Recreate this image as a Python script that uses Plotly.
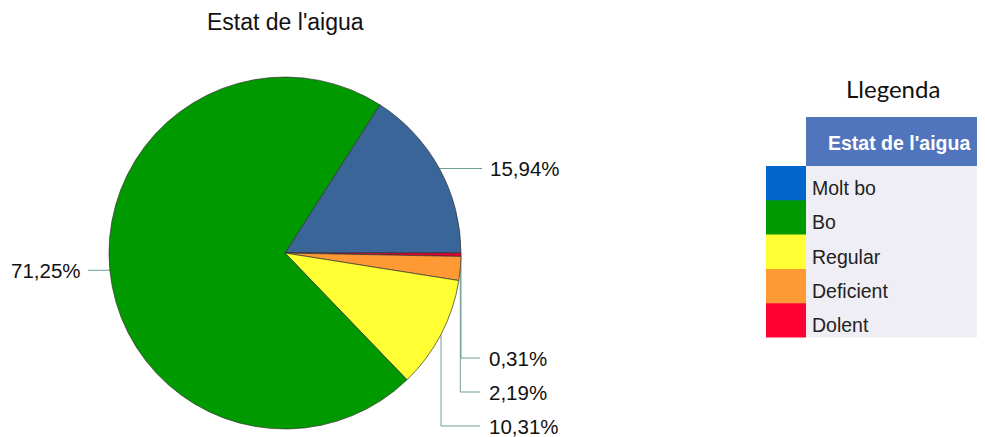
import math
import plotly.graph_objects as go

# Legend categories (top to bottom) and their swatch colours
categories = ["Molt bo", "Bo", "Regular", "Deficient", "Dolent"]
legend_colors = ["#0066CC", "#009900", "#FFFF33", "#FF9933", "#FF0033"]

# Pie slices, in drawing order (clockwise)
slice_names = ["Molt bo", "Dolent", "Deficient", "Regular", "Bo"]
slice_values = [15.94, 0.31, 2.19, 10.31, 71.25]
slice_colors = ["#3A6599", "#E8002E", "#FF9933", "#FFFF33", "#009900"]

# page has an 8px body margin, so the figure is drawn from (8, 8)
OFF = 8
W, H = 985 - OFF, 437 - OFF
cx, cy, r = 285, 253, 176
total = sum(slice_values)
rotation = 90 - 360 * slice_values[0] / total  # first slice ends at 3 o'clock

fig = go.Figure()

fig.add_trace(go.Pie(
    labels=slice_names, values=slice_values, sort=False,
    direction="clockwise", rotation=rotation,
    marker=dict(colors=slice_colors, line=dict(color="#333333", width=0.7)),
    textinfo="none", hoverinfo="label+percent", showlegend=False,
    domain=dict(x=[(cx - r - OFF) / W, (cx + r - OFF) / W],
                y=[(H + OFF - cy - r) / H, (H + OFF - cy + r) / H]),
))


def fmt(v):
    return ("%.2f" % v).replace(".", ",") + "%"


# leader lines and labels, computed from the slice angles
line_col = "#6E9E95"
stack_y = 358
cum = 0
for name, v in zip(slice_names, slice_values):
    theta = math.radians(rotation + 360 * (cum + v / 2) / total)
    cum += v
    ex = cx + r * math.sin(theta)
    ey = cy - r * math.cos(theta)
    if ex < cx:
        xs, ys = [ex, 88], [ey, ey]
        tx, ty, anchor = 83, ey, "right"
    elif v / total > 0.12:
        xs, ys = [ex, 482], [ey, ey]
        tx, ty, anchor = 488, ey, "left"
    else:
        xs, ys = [ex, ex, 480], [ey, stack_y, stack_y]
        tx, ty, anchor = 487, stack_y, "left"
        stack_y += 34
    fig.add_trace(go.Scatter(x=xs, y=ys, mode="lines", line=dict(color=line_col, width=1),
                             hoverinfo="skip", showlegend=False))
    fig.add_annotation(x=tx, y=ty, text=fmt(v), showarrow=False, xanchor=anchor, yanchor="middle",
                       font=dict(family="Liberation Sans", size=20.5, color="#111111"))

# chart title
fig.add_annotation(x=cx, y=22, text="Estat de l'aigua", showarrow=False,
                   font=dict(family="Liberation Sans", size=23, color="#111111"))

# legend table
fig.add_annotation(x=893, y=88, text="Llegenda", showarrow=False,
                   font=dict(family="Lato", size=24, color="#111111"))
x0, x1, x2 = 766, 806, 985
row_h = 34.3
fig.add_shape(type="rect", x0=x1, x1=x2, y0=117, y1=166, fillcolor="#5175BD", line_width=0, layer="below")
fig.add_shape(type="rect", x0=x1, x1=x2, y0=166, y1=166 + row_h * len(categories),
              fillcolor="#EFEEF4", line_width=0, layer="below")
fig.add_annotation(x=899, y=143, text="<b>Estat de l'aigua</b>", showarrow=False,
                   font=dict(family="Liberation Sans", size=19.5, color="white"))
for i, (cat, col) in enumerate(zip(categories, legend_colors)):
    y0 = 166 + i * row_h
    y1 = y0 + row_h + (0.6 if i < len(categories) - 1 else 0)
    fig.add_shape(type="rect", x0=x0, x1=x1, y0=y0, y1=y1, fillcolor=col, line_width=0, layer="below")
    fig.add_annotation(x=810, y=y0 + row_h / 2 + 5, text=cat, showarrow=False, xanchor="left",
                       font=dict(family="Liberation Sans", size=19.5, color="#222222"))

fig.update_layout(
    width=W, height=H, margin=dict(l=0, r=0, t=0, b=0),
    paper_bgcolor="white", plot_bgcolor="rgba(0,0,0,0)",
    xaxis=dict(range=[OFF, 985], visible=False, fixedrange=True),
    yaxis=dict(range=[437, OFF], visible=False, fixedrange=True),
    showlegend=False,
)

fig.write_html("out.html")
